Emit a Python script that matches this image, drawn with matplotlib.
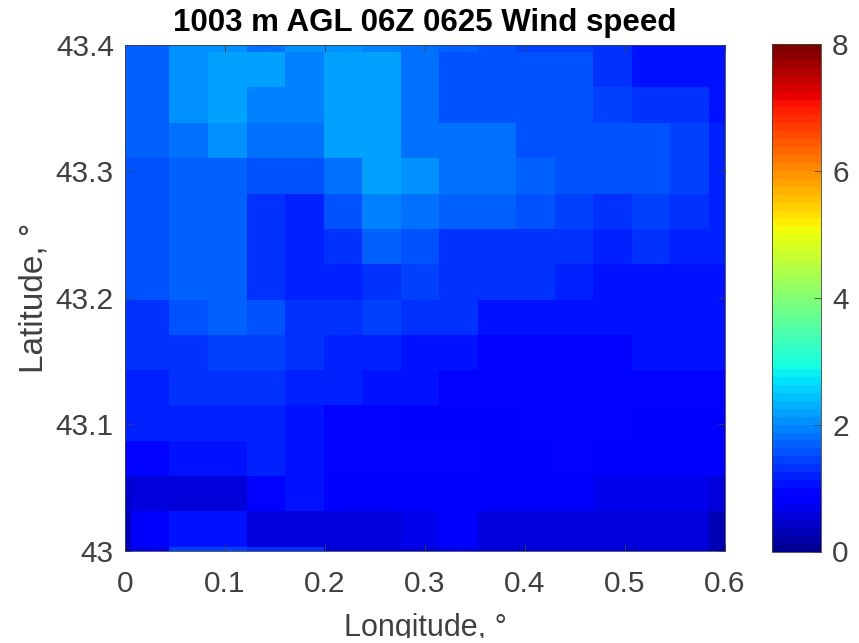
import numpy as np
import matplotlib
matplotlib.use('Agg')
import matplotlib.pyplot as plt
from matplotlib.colors import ListedColormap
from matplotlib.transforms import Bbox, TransformedBbox

plt.rcParams['font.family'] = ['Liberation Sans', 'DejaVu Sans']

# grid cell edges, rows go from north to south
lon_edges = [0, .006, .044, .083, .1215, .160, .1985, .237, .2755, .314, .3525,
             .391, .4295, .468, .5065, .545, .5835, .6]
lat_edges = [43.4, 43.3945, 43.3667, 43.3382, 43.3105, 43.282, 43.2543, 43.2265,
             43.198, 43.1703, 43.1426, 43.1149, 43.0863, 43.0586, 43.0309, 43.0024, 43.0]

# wind speed, m/s
row_00 = [1.65, 1.72, 2.00, 2.00, 1.85, 2.00, 2.10, 1.90, 1.75, 1.65, 1.60, 1.45, 1.45, 1.35, 1.05, 1.00, 1.00]
row_01 = [1.65, 1.70, 2.00, 2.15, 2.15, 1.95, 2.20, 2.20, 1.75, 1.60, 1.50, 1.50, 1.50, 1.30, 1.05, 1.05, 1.00]
row_02 = [1.65, 1.70, 2.00, 2.15, 1.95, 1.95, 2.20, 2.20, 1.75, 1.60, 1.50, 1.50, 1.50, 1.42, 1.25, 1.30, 1.00]
row_03 = [1.65, 1.70, 1.85, 2.00, 1.85, 1.85, 2.20, 2.20, 1.80, 1.75, 1.75, 1.55, 1.55, 1.50, 1.50, 1.45, 1.15]
row_04 = [1.55, 1.60, 1.72, 1.72, 1.55, 1.55, 1.85, 2.15, 2.05, 1.80, 1.75, 1.70, 1.55, 1.50, 1.50, 1.45, 1.20]
row_05 = [1.55, 1.60, 1.72, 1.72, 1.35, 1.22, 1.55, 1.95, 1.85, 1.70, 1.70, 1.50, 1.40, 1.30, 1.45, 1.35, 1.15]
row_06 = [1.55, 1.60, 1.72, 1.72, 1.35, 1.22, 1.35, 1.70, 1.50, 1.35, 1.35, 1.35, 1.25, 1.15, 1.35, 1.20, 1.15]
row_07 = [1.55, 1.60, 1.72, 1.72, 1.35, 1.20, 1.20, 1.35, 1.40, 1.30, 1.30, 1.30, 1.20, 1.02, 1.02, 1.02, 1.10]
row_08 = [1.30, 1.35, 1.50, 1.70, 1.55, 1.25, 1.25, 1.40, 1.35, 1.25, 1.10, 1.05, 1.05, 1.00, 1.00, 1.10, 1.10]
row_09 = [1.25, 1.30, 1.30, 1.45, 1.45, 1.35, 1.20, 1.20, 1.02, 1.00, 0.97, 0.97, 0.97, 0.93, 1.00, 1.00, 1.00]
row_10 = [1.15, 1.20, 1.33, 1.33, 1.33, 1.22, 1.15, 1.00, 1.00, 0.97, 0.95, 0.95, 0.95, 0.95, 0.95, 0.95, 0.95]
row_11 = [1.20, 1.22, 1.18, 1.18, 1.18, 1.08, 0.98, 0.98, 0.85, 0.85, 0.82, 0.93, 0.93, 0.93, 0.85, 0.85, 0.85]
row_12 = [0.92, 0.95, 1.10, 1.10, 1.20, 1.08, 0.96, 0.88, 0.88, 0.88, 0.80, 0.80, 0.92, 0.78, 0.78, 0.78, 0.78]
row_13 = [0.45, 0.50, 0.50, 0.50, 0.90, 1.00, 0.85, 0.75, 0.75, 0.75, 0.75, 0.75, 0.85, 0.70, 0.70, 0.70, 0.50]
row_14 = [0.35, 0.75, 1.00, 1.00, 0.50, 0.55, 0.50, 0.50, 0.65, 0.80, 0.62, 0.62, 0.62, 0.62, 0.62, 0.62, 0.30]
row_15 = [0.35, 0.70, 1.40, 1.40, 1.30, 1.30, 0.50, 0.50, 0.60, 0.70, 0.60, 0.60, 0.60, 0.60, 0.60, 0.60, 0.30]

speed = np.array([row_00, row_01, row_02, row_03, row_04, row_05, row_06, row_07,
                  row_08, row_09, row_10, row_11, row_12, row_13, row_14, row_15])

lon_ticks = [0, 0.1, 0.2, 0.3, 0.4, 0.5, 0.6]
lon_labels = ['0', '0.1', '0.2', '0.3', '0.4', '0.5', '0.6']
lat_ticks = [43, 43.1, 43.2, 43.3, 43.4]
lat_labels = ['43', '43.1', '43.2', '43.3', '43.4']
cbar_ticks = [0, 2, 4, 6, 8]

W, H = 859, 643
text_col = '#404040'

# same 64 steps as the matlab jet map
jet64 = ListedColormap(plt.get_cmap('jet')(np.arange(1, 65) / 64))

fig = plt.figure(figsize=(W / 100, H / 100), dpi=100)
ax = fig.add_axes([125 / W, 1 - 550.5 / H, 600 / W, 505.5 / H])
cax = fig.add_axes([772 / W, 1 - 551.5 / H, 49 / W, 507.5 / H])

mesh = ax.pcolormesh(lon_edges, lat_edges, speed, cmap=jet64, vmin=0, vmax=8)
ax.set_xlim(0, 0.6)
ax.set_ylim(43, 43.4)
ax.set_xticks(lon_ticks, lon_labels)
ax.set_yticks(lat_ticks, lat_labels)
ax.tick_params(direction='in', top=True, right=True, length=5, width=0.6,
               color='#404040', labelsize=21.5, labelcolor=text_col, pad=8)
ax.tick_params(axis='x', pad=14)
xlab = ax.set_xlabel('Longitude, °', fontsize=22, color=text_col, labelpad=10.5)
ax.set_ylabel('Latitude, °', fontsize=24, color=text_col, labelpad=4.5)
ax.set_title('1003 m AGL 06Z 0625 Wind speed', fontsize=22.5, fontweight='bold', pad=10)
for s in ax.spines.values():
    s.set_linewidth(0.6)
    s.set_color('#404040')

# the label is cut off at the bottom in the original
xlab.set_clip_box(TransformedBbox(Bbox([[0, 5 / H], [1, 1]]), fig.transFigure))
xlab.set_clip_on(True)

cb = fig.colorbar(mesh, cax=cax, ticks=cbar_ticks)
cb.ax.tick_params(direction='in', length=5, width=0.6, color='#404040',
                  labelsize=21.5, labelcolor=text_col, pad=8)
cb.outline.set_linewidth(0.6)
cb.outline.set_edgecolor('#404040')

fig.savefig('out.png', dpi=100)
